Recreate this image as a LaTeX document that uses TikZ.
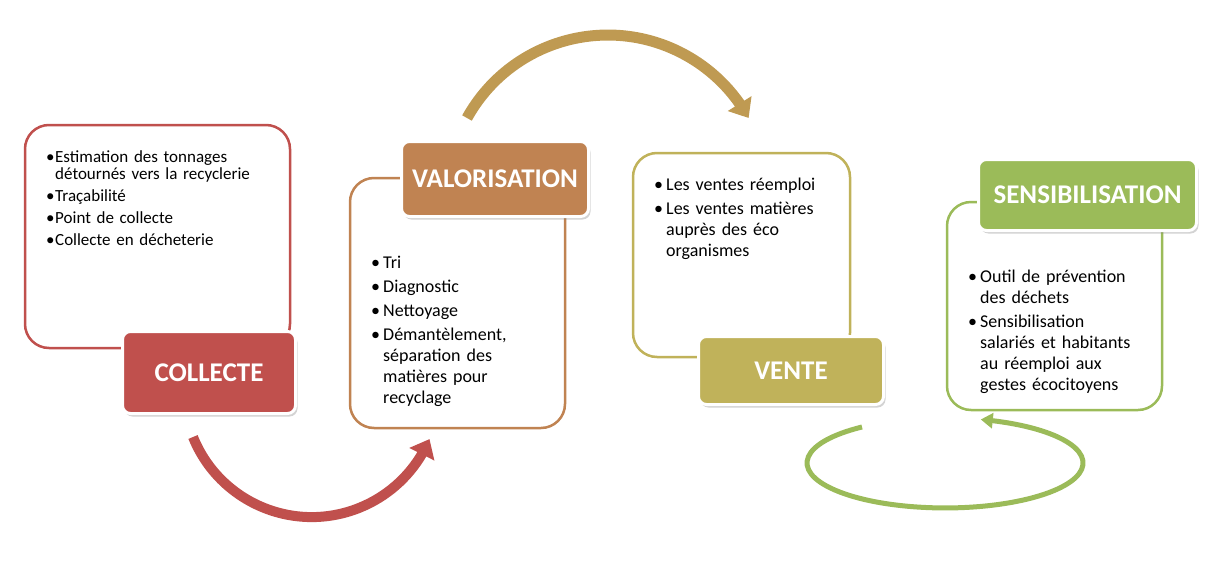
\documentclass[tikz,border=0pt]{standalone}
\usepackage{fontspec}
\setmainfont{Carlito}
\usetikzlibrary{arrows.meta, bending, shadows}
\definecolor{colred}{RGB}{192,80,77}
\definecolor{valbrown}{RGB}{192,131,82}
\definecolor{ventegold}{RGB}{192,178,90}
\definecolor{sensgreen}{RGB}{155,187,89}
\definecolor{arcgold}{RGB}{191,154,82}
\newcommand{\bitem}[2][12pt]{\par\noindent\makebox[#1][l]{\textbullet}%
	\parbox[t]{\dimexpr\hsize-#1\relax}{\raggedright #2\par\xdef\lastdp{\the\prevdepth}}\par\prevdepth=\lastdp}

\begin{document}
\begin{tikzpicture}[x=1pt, y=-1pt,
	panel/.style={draw, fill=white, line width=2.5pt, rounded corners=24pt},
	titlebox/.style={draw=white, line width=3pt, rounded corners=8pt, text=white,
		font=\bfseries\fontsize{27}{27}\selectfont,
		drop shadow={shadow xshift=2pt, shadow yshift=-3pt, opacity=0.35}},
	bullets/.style={anchor=north west, inner sep=0pt, align=left,
		font=\fontsize{18}{21}\selectfont\setlength\parskip{3pt}}]
		\useasboundingbox (0,0) rectangle (1227,560);
		% boxes
		\node[panel, draw=colred, minimum width=265pt, minimum height=223pt] (colbox) at (157.5,236.5) {};
		\node[panel, draw=valbrown, minimum width=215pt, minimum height=250pt] (valbox) at (457.5,303) {};
		\node[panel, draw=ventegold, minimum width=217pt, minimum height=204pt] (ventbox) at (741.5,255) {};
		\node[panel, draw=sensgreen, minimum width=215pt, minimum height=208pt] (sensbox) at (1054.5,306) {};
		% titles
		\node[titlebox, fill=colred, minimum width=173pt, minimum height=82pt] (coltitle) at (209,372.5) {COLLECTE};
		\node[titlebox, fill=valbrown, minimum width=187pt, minimum height=75pt] (valtitle) at (495,179) {VALORISATION};
		\node[titlebox, fill=ventegold, minimum width=185pt, minimum height=68pt] (venttitle) at (791,370.5) {VENTE};
		\node[titlebox, fill=sensgreen, minimum width=218pt, minimum height=71pt] (senstitle) at (1087.5,195) {SENSIBILISATION};
		% texts
		\node[bullets, text width=240pt, font=\fontsize{17}{17.5}\selectfont\setlength\parskip{4.5pt}] (coltxt) at (46,140) {%
			\bitem[9pt]{Estimation des tonnages\newline détournés vers la recyclerie}
			\bitem[9pt]{Traçabilité}
			\bitem[9pt]{Point de collecte}
			\bitem[9pt]{Collecte en décheterie}};
		\node[bullets, text width=180pt] (valtxt) at (371,244) {%
			\bitem{Tri}
			\bitem{Diagnostic}
			\bitem{Nettoyage}
			\bitem{Démantèlement,\newline séparation des\newline matières pour\newline recyclage}};
		\node[bullets, text width=185pt] (venttxt) at (654,166) {%
			\bitem{Les ventes réemploi}
			\bitem{Les ventes matières\newline auprès des éco\newline organismes}};
		\node[bullets, text width=185pt] (senstxt) at (968,258) {%
			\bitem{Outil de prévention\newline des déchets}
			\bitem{Sensibilisation\newline salariés et habitants\newline au réemploi aux\newline gestes écocitoyens}};
		% arrows
		\coordinate (r1) at (193,437);
		\coordinate (g1) at (467,118);
		\coordinate (v1) at (862,427);
		\draw[colred, line width=10pt, -{Triangle[length=17pt, width=27pt]}] (r1) arc[start angle=158, end angle=23, radius=128];
		\draw[arcgold, line width=11pt, -{Triangle[length=17pt, width=27pt]}] (g1) arc[start angle=-151, end angle=-29, radius=161];
		\draw[sensgreen, line width=5pt, -{Triangle[length=12pt, width=15pt]}] (v1) arc[start angle=-127, end angle=-435, x radius=138, y radius=45];
	\end{tikzpicture}
\end{document}
